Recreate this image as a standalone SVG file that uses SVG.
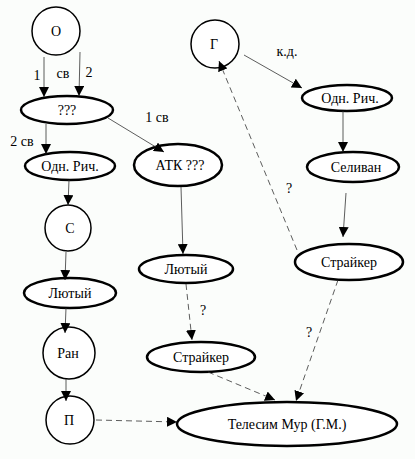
<svg xmlns="http://www.w3.org/2000/svg" width="415" height="459" viewBox="0 0 415 459">
<defs>
<marker id="ah" viewBox="0 0 10 10" refX="10" refY="5" markerWidth="10" markerHeight="10" markerUnits="userSpaceOnUse" orient="auto">
<path d="M0,0 L10,5 L0,10 Z" fill="#000"/>
</marker>
<style>
.n{fill:#fff;stroke:#000;stroke-width:1.5}
.e{fill:#fff;stroke:#000;stroke-width:2.5}
.c{fill:none;stroke:#333;stroke-width:0.8;marker-end:url(#ah)}
.d{fill:none;stroke:#333;stroke-width:0.8;stroke-dasharray:6,4;marker-end:url(#ah)}
text{font-family:'Liberation Serif','DejaVu Serif','Times New Roman',serif;font-size:14px;fill:#000;text-anchor:middle}
</style>
</defs>
<rect width="415" height="459" fill="#fbfdfb"/>
<g id="O"><circle class="n" cx="56" cy="31" r="24"/><text x="56" y="36">О</text></g>
<g id="Q"><ellipse class="e" cx="67" cy="110" rx="46" ry="14"/><text x="67" y="115">???</text></g>
<g id="OR1"><ellipse class="e" cx="70" cy="166" rx="45" ry="14"/><text x="70" y="171">Одн. Рич.</text></g>
<g id="ATK"><ellipse class="e" cx="178" cy="165" rx="44" ry="21"/><text x="180" y="170">АТК ???</text></g>
<g id="G"><circle class="n" cx="215" cy="44" r="24"/><text x="214" y="49">Г</text></g>
<g id="OR2"><ellipse class="e" cx="347" cy="98" rx="45" ry="13"/><text x="350" y="103">Одн. Рич.</text></g>
<g id="Sel"><ellipse class="e" cx="353" cy="167" rx="46" ry="15"/><text x="356" y="172">Селиван</text></g>
<g id="Str2"><ellipse class="e" cx="349" cy="262" rx="54" ry="18"/><text x="349" y="267">Страйкер</text></g>
<g id="Lut2"><ellipse class="e" cx="186" cy="269" rx="47" ry="14"/><text x="186" y="274">Лютый</text></g>
<g id="Str1"><ellipse class="e" cx="201" cy="357" rx="54" ry="15"/><text x="201" y="362">Страйкер</text></g>
<g id="Tel"><ellipse class="e" cx="287" cy="424" rx="110" ry="22"/><text x="287" y="429">Телесим Мур (Г.М.)</text></g>
<g id="S"><circle class="n" cx="68" cy="228" r="23"/><text x="70" y="233">С</text></g>
<g id="Lut1"><ellipse class="e" cx="70" cy="293" rx="46" ry="15"/><text x="70" y="298">Лютый</text></g>
<g id="Ran"><circle class="n" cx="69" cy="353" r="26"/><text x="68" y="358">Ран</text></g>
<g id="P"><circle class="n" cx="70" cy="420" r="24"/><text x="69" y="425">П</text></g>
<g id="connectors">
<line class="c" x1="44" y1="57" x2="44" y2="97"/>
<line class="c" x1="80" y1="52" x2="79" y2="96"/>
<line class="c" x1="46" y1="124" x2="46" y2="154"/>
<line class="c" x1="108" y1="118" x2="164" y2="152"/>
<line class="c" x1="69" y1="180" x2="68" y2="205"/>
<line class="c" x1="66" y1="252" x2="65" y2="280"/>
<line class="c" x1="66" y1="308" x2="65" y2="333"/>
<line class="c" x1="66" y1="379" x2="66" y2="401"/>
<line class="d" x1="96" y1="420" x2="177" y2="422"/>
<line class="c" x1="244" y1="55" x2="302" y2="88"/>
<line class="c" x1="343" y1="111" x2="343" y2="152"/>
<line class="c" x1="346" y1="193" x2="343" y2="237"/>
<line class="d" x1="297" y1="250" x2="219" y2="61"/>
<line class="c" x1="181" y1="187" x2="183" y2="254"/>
<line class="d" x1="186" y1="284" x2="192" y2="340"/>
<line class="d" x1="208" y1="372" x2="275" y2="400"/>
<line class="d" x1="338" y1="280" x2="296" y2="401"/>
<text x="37" y="80">1</text>
<text x="63" y="78">св</text>
<text x="89" y="77">2</text>
<text x="22" y="146">2 св</text>
<text x="157" y="122">1 св</text>
<text x="287" y="56">к.д.</text>
<text x="289" y="193">?</text>
<text x="203" y="315">?</text>
<text x="309" y="337">?</text>
</g>
</svg>
